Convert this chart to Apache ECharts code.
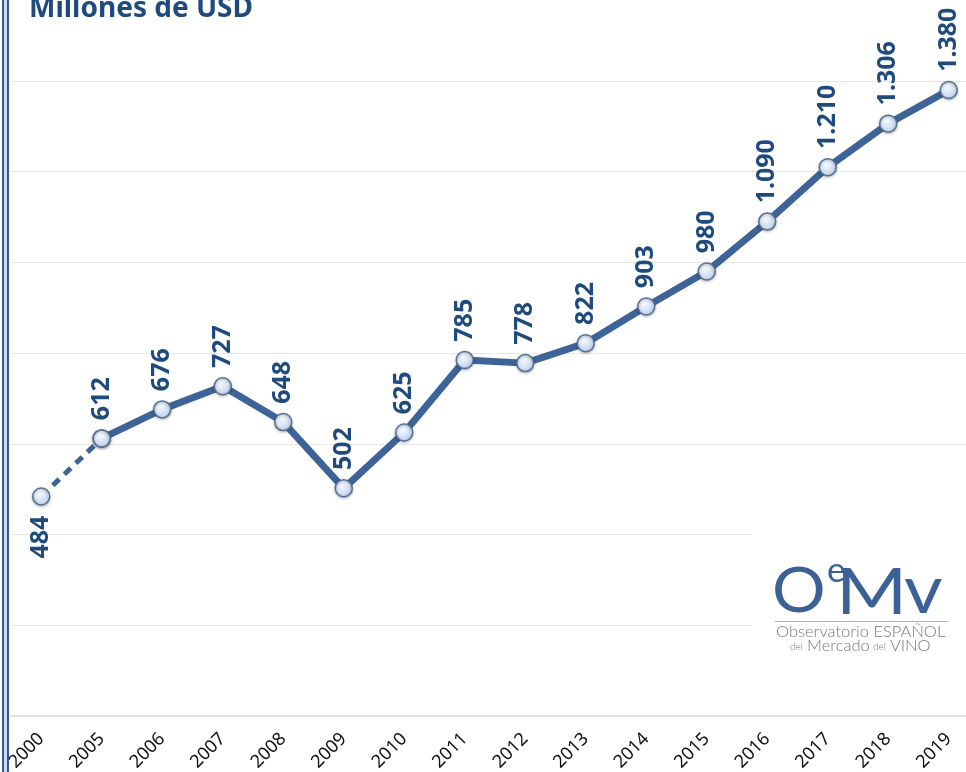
<!DOCTYPE html>
<html>
<head>
<meta charset="UTF-8">
<title>Millones de USD</title>
<script src="https://cdn.jsdelivr.net/npm/echarts@6/dist/echarts.min.js"></script>
<style>
  html, body { margin: 0; padding: 0; background: #fff; overflow: hidden; }
  #frame { position: absolute; left: 2px; top: 0; width: 3px; height: 772px;
           border-left: 2px solid #2f5a94; border-right: 2px solid #2f5a94; background: #c9d9ef; }
  #main { position: absolute; left: 0; top: 0; width: 966px; height: 772px; }
</style>
</head>
<body>
<div id="main"></div>
<div id="frame"></div>
<script type="text/javascript">
// datos
var years = ['2000', '2005', '2006', '2007', '2008', '2009', '2010', '2011',
             '2012', '2013', '2014', '2015', '2016', '2017', '2018', '2019'];
var values = [484, 612, 676, 727, 648, 502, 625, 785, 778, 822, 903, 980, 1090, 1210, 1306, 1380];
var yTicks = [0, 200, 400, 600, 800, 1000, 1200, 1400];

// tramo discontinuo 2000-2005 y tramo continuo 2005-2019
var dashedPart = values.map(function (v, i) { return i <= 1 ? v : '-'; });
var solidPart = values.map(function (v, i) { return i >= 1 ? v : '-'; });

function fmt(v) {
  return String(v).replace(/\B(?=(\d{3})+(?!\d))/g, '.');
}

var lineColor = '#3d6398';
var labelColor = '#1f4a7e';
var logoBlue = '#3b6197';
var logoGray = '#777';
var markerStyle = {
  color: {
    type: 'radial', x: 0.4, y: 0.35, r: 0.75,
    colorStops: [{ offset: 0, color: '#f7faff' }, { offset: 1, color: '#b3cbea' }]
  },
  borderColor: '#56708f',
  borderWidth: 1.5,
  shadowColor: 'rgba(0,0,0,0.25)',
  shadowBlur: 3,
  shadowOffsetY: 1
};

var myChart = echarts.init(document.getElementById('main'));

myChart.setOption({
  backgroundColor: '#fff',
  animation: false,
  title: {
    text: 'Millones de USD',
    left: 24,
    top: -10,
    textStyle: { color: '#1f4a7e', fontSize: 28, fontWeight: 'bold', fontFamily: 'Noto Sans' }
  },
  grid: { left: 11, width: 968, top: 81, bottom: 56, containLabel: false, outerBoundsMode: 'none' },
  xAxis: {
    type: 'category',
    data: years,
    boundaryGap: true,
    axisLine: { lineStyle: { color: '#e3e3e3', width: 2 } },
    axisTick: { show: false },
    axisLabel: {
      rotate: 45, margin: 20, color: '#111',
      fontSize: 18, fontFamily: 'Noto Sans'
    }
  },
  yAxis: {
    type: 'value',
    min: yTicks[0],
    max: yTicks[yTicks.length - 1],
    interval: 200,
    axisLine: { show: false },
    axisTick: { show: false },
    axisLabel: { show: false },
    splitLine: { lineStyle: { color: '#e8e8e8', width: 1 } }
  },
  series: [
    {
      type: 'line',
      data: dashedPart,
      symbol: 'circle',
      symbolSize: 17,
      lineStyle: { color: lineColor, width: 5, type: [9, 7] },
      itemStyle: markerStyle,
      z: 3,
      label: {
        show: true,
        position: 'bottom',
        distance: 10,
        rotate: 90,
        align: 'right',
        verticalAlign: 'middle',
        color: labelColor,
        fontSize: 25,
        fontWeight: 'bold',
        fontFamily: 'Noto Sans',
        formatter: function (p) { return p.dataIndex === 0 ? fmt(p.value) : ''; }
      }
    },
    {
      type: 'line',
      data: solidPart,
      symbol: 'circle',
      symbolSize: 17,
      lineStyle: { color: lineColor, width: 7 },
      itemStyle: markerStyle,
      z: 4,
      label: {
        show: true,
        position: 'top',
        distance: 9,
        rotate: 90,
        align: 'left',
        verticalAlign: 'middle',
        color: labelColor,
        fontSize: 25,
        fontWeight: 'bold',
        fontFamily: 'Noto Sans',
        formatter: function (p) { return fmt(p.value); }
      }
    }
  ],
  graphic: [
    {
      type: 'rect', z: 10,
      left: 752, top: 532,
      shape: { width: 214, height: 130 },
      style: { fill: '#fff' }
    },
    // logo OeMv
    { type: 'text', z: 11, x: 772, y: 562, scaleX: 1.1, style: { text: 'O', fill: logoBlue, font: 'normal 61px Lato' } },
    { type: 'text', z: 11, x: 827, y: 553, style: { text: 'e', fill: logoBlue, font: 'normal 35px Lato' } },
    { type: 'text', z: 11, x: 836, y: 561, scaleX: 1.2, style: { text: 'M', fill: logoBlue, font: 'normal 64px Lato' } },
    { type: 'text', z: 11, x: 904, y: 557, scaleX: 1.1, style: { text: 'v', fill: logoBlue, font: 'normal 68px Lato' } },
    {
      type: 'rect', z: 11, left: 775, top: 621,
      shape: { width: 173, height: 1 },
      style: { fill: '#d9a2a2' }
    },
    { type: 'text', z: 11, x: 776, y: 623, style: { text: 'Observatorio ESPAÑOL', fill: logoGray, font: '300 16.5px Lato' } },
    { type: 'text', z: 11, x: 790, y: 642, style: { text: 'del', fill: logoGray, font: '300 10px Lato' } },
    { type: 'text', z: 11, x: 807, y: 637, style: { text: 'Mercado', fill: logoGray, font: '300 16.5px Lato' } },
    { type: 'text', z: 11, x: 873, y: 642, style: { text: 'del', fill: logoGray, font: '300 10px Lato' } },
    { type: 'text', z: 11, x: 890, y: 637, style: { text: 'VINO', fill: logoGray, font: '300 16.5px Lato' } }
  ]
});
</script>
</body>
</html>
